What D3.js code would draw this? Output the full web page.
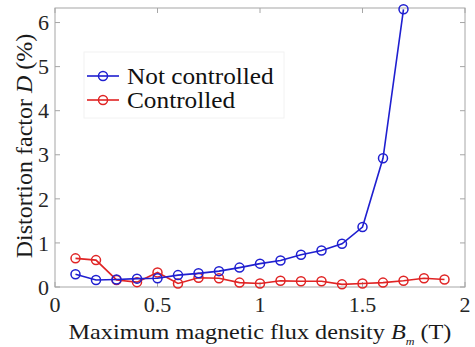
<!DOCTYPE html>
<html>
<head>
<meta charset="UTF-8">
<script src="https://d3js.org/d3.v7.min.js"></script>
</head>
<body style="margin:0">
<script>
// Data
const fluxNC = [0.1, 0.2, 0.3, 0.4, 0.5, 0.6, 0.7, 0.8, 0.9, 1.0, 1.1, 1.2, 1.3, 1.4, 1.5, 1.6, 1.7];
const distNC = [0.29, 0.16, 0.17, 0.19, 0.2, 0.27, 0.31, 0.36, 0.44, 0.53, 0.6, 0.73, 0.83, 0.98, 1.36, 2.92, 6.3];
const fluxC = [0.1, 0.2, 0.3, 0.4, 0.5, 0.6, 0.7, 0.8, 0.9, 1.0, 1.1, 1.2, 1.3, 1.4, 1.5, 1.6, 1.7, 1.8, 1.9];
const distC = [0.65, 0.61, 0.16, 0.11, 0.33, 0.08, 0.21, 0.2, 0.1, 0.08, 0.14, 0.13, 0.13, 0.06, 0.08, 0.1, 0.14, 0.2, 0.17];
const xTicks = [0, 0.5, 1, 1.5, 2];
const yTicks = [0, 1, 2, 3, 4, 5, 6];
const seriesNames = ["Not controlled", "Controlled"];
const seriesColors = ["#1f1fd0", "#e02424"];

const width = 475, height = 347;
const margin = { left: 55, right: 10, top: 8, bottom: 60 };
const yMax = 6.33;

const svg = d3.select("body").append("svg")
  .attr("width", width).attr("height", height)
  .style("font-family", "'Liberation Serif'");

// every text gets the serif face on the element itself
function label(parent) {
  return parent.append("text").style("font-family", "'Liberation Serif'");
}

const x = d3.scaleLinear().domain([0, 2]).range([margin.left, width - margin.right]);
const y = d3.scaleLinear().domain([0, yMax]).range([height - margin.bottom, margin.top]);

// axes box
const axisColor = "#a6a6a6";
svg.append("rect")
  .attr("x", x(0)).attr("y", y(yMax))
  .attr("width", x(2) - x(0)).attr("height", y(0) - y(yMax))
  .attr("fill", "none").attr("stroke", axisColor).attr("stroke-width", 1);

// ticks (inside, on all four sides)
const tl = 5;
xTicks.forEach(t => {
  svg.append("line").attr("x1", x(t)).attr("x2", x(t)).attr("y1", y(0)).attr("y2", y(0) - tl).attr("stroke", axisColor);
  svg.append("line").attr("x1", x(t)).attr("x2", x(t)).attr("y1", y(yMax)).attr("y2", y(yMax) + tl).attr("stroke", axisColor);
  label(svg).attr("x", x(t)).attr("y", y(0) + 25).attr("text-anchor", "middle")
    .attr("font-size", 22).attr("fill", "#262626").text(t);
});
yTicks.forEach(t => {
  svg.append("line").attr("x1", x(0)).attr("x2", x(0) + tl).attr("y1", y(t)).attr("y2", y(t)).attr("stroke", axisColor);
  svg.append("line").attr("x1", x(2)).attr("x2", x(2) - tl).attr("y1", y(t)).attr("y2", y(t)).attr("stroke", axisColor);
  label(svg).attr("x", x(0) - 6).attr("y", y(t)).attr("dy", "0.35em").attr("text-anchor", "end")
    .attr("font-size", 22).attr("fill", "#262626").text(t);
});

// axis labels (the reference type is a little wide, so stretch horizontally)
const xl = label(svg).attr("transform", "translate(260,339) scale(1.1,1)").attr("text-anchor", "middle")
  .attr("font-size", 22).attr("fill", "#1a1a1a");
xl.append("tspan").text("Maximum magnetic flux density ");
xl.append("tspan").attr("font-style", "italic").text("B");
xl.append("tspan").attr("font-size", 11).attr("font-style", "italic").attr("dy", 6).text("m");
xl.append("tspan").attr("dy", -6).text(" (T)");

const yl = label(svg).attr("transform", "translate(32,146) rotate(-90)").attr("text-anchor", "middle")
  .attr("font-size", 24).attr("fill", "#1a1a1a");
yl.append("tspan").text("Distortion factor ");
yl.append("tspan").attr("font-style", "italic").text("D");
yl.append("tspan").text(" (%)");

// series
const line = d3.line().x(d => x(d[0])).y(d => y(d[1]));
const series = [
  d3.zip(fluxNC, distNC),
  d3.zip(fluxC, distC)
];
[1, 0].forEach(i => {
  const g = svg.append("g");
  g.append("path").datum(series[i]).attr("d", line)
    .attr("fill", "none").attr("stroke", seriesColors[i]).attr("stroke-width", 1.6);
  g.selectAll("circle").data(series[i]).join("circle")
    .attr("cx", d => x(d[0])).attr("cy", d => y(d[1])).attr("r", 4.5)
    .attr("fill", "none").attr("stroke", seriesColors[i]).attr("stroke-width", 1.5);
});

// legend
const leg = svg.append("g");
leg.append("rect").attr("x", 84).attr("y", 52).attr("width", 200).attr("height", 66)
  .attr("fill", "#fff").attr("stroke", "#f2f2f2");
seriesNames.forEach((name, i) => {
  const ly = 76 + i * 24;
  leg.append("line").attr("x1", 87).attr("x2", 119).attr("y1", ly).attr("y2", ly)
    .attr("stroke", seriesColors[i]).attr("stroke-width", 1.6);
  leg.append("circle").attr("cx", 103).attr("cy", ly).attr("r", 4.5)
    .attr("fill", "none").attr("stroke", seriesColors[i]).attr("stroke-width", 1.5);
  label(leg).attr("transform", `translate(127,${ly}) scale(1.1,1)`).attr("dy", "0.33em")
    .attr("font-size", 23).attr("fill", "#111").text(name);
});
</script>
</body>
</html>
